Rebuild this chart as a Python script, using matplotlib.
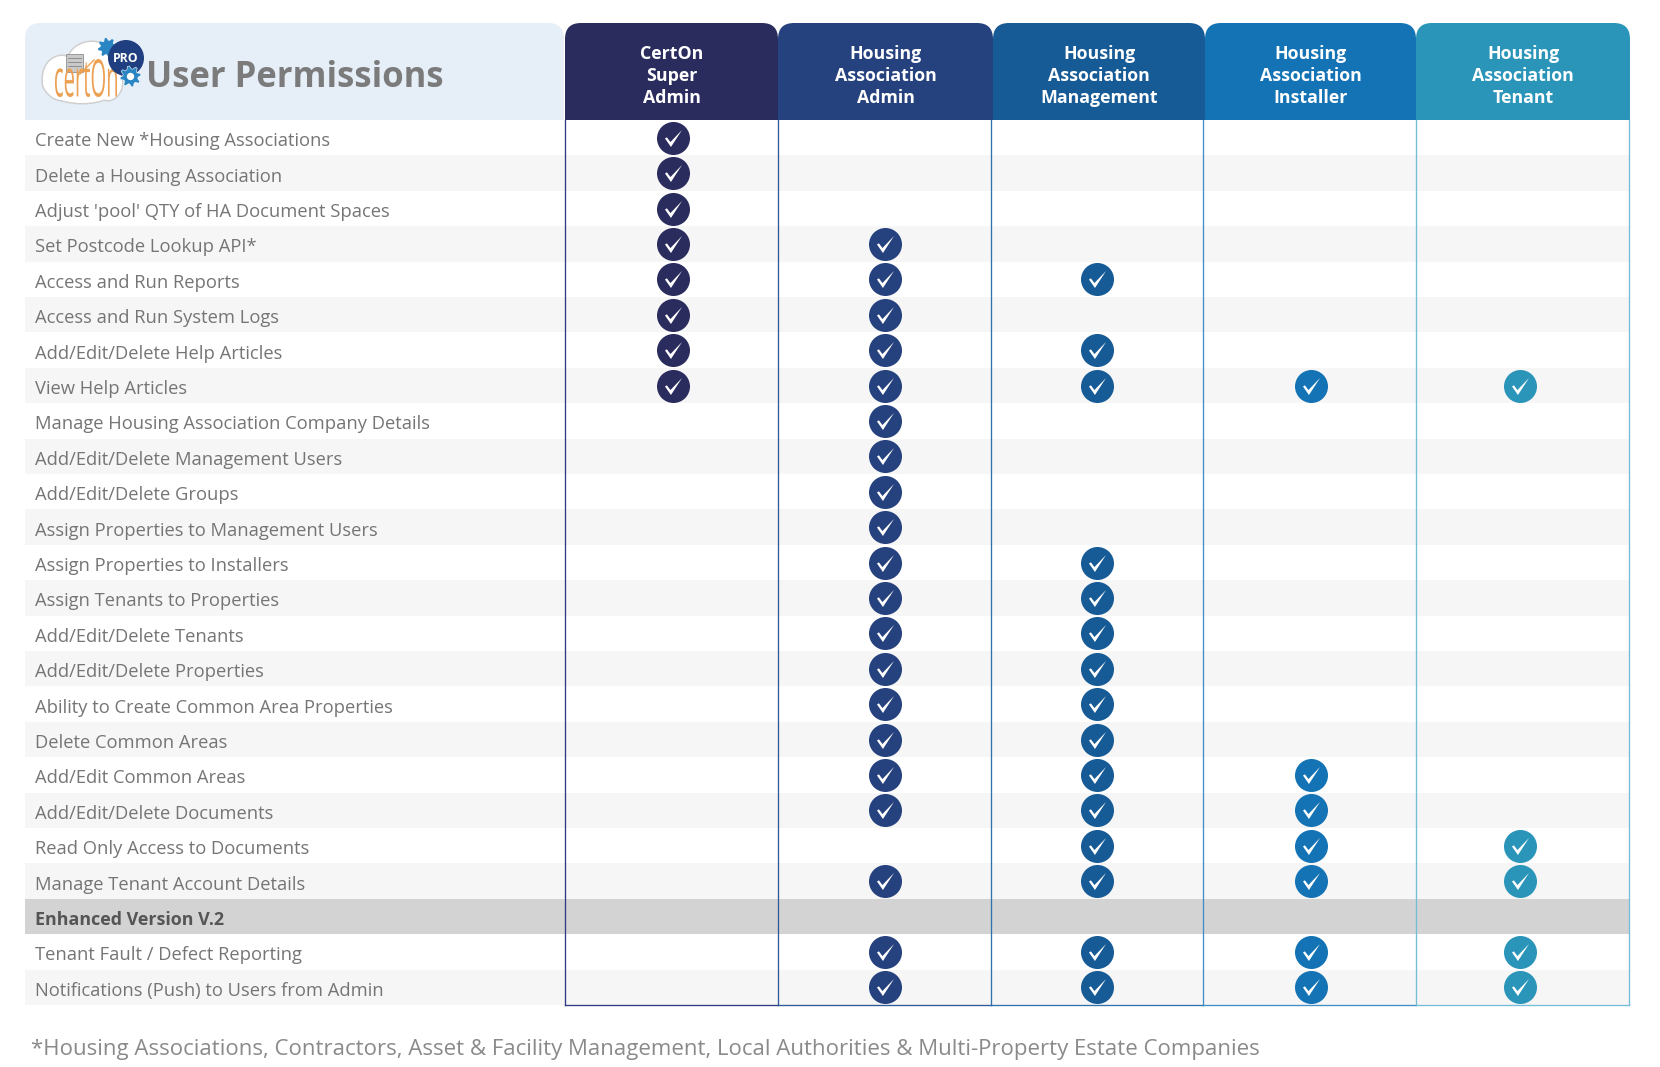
import matplotlib
matplotlib.use('Agg')
import matplotlib.pyplot as plt
import matplotlib.patches as patches
from matplotlib.path import Path
from matplotlib.textpath import TextPath
from matplotlib.font_manager import FontProperties
from matplotlib.transforms import Affine2D
import numpy as np

plt.rcParams['font.family'] = ['Open Sans', 'DejaVu Sans']

rowLabels = ["Create New *Housing Associations", "Delete a Housing Association",
             "Adjust 'pool' QTY of HA Document Spaces", "Set Postcode Lookup API*",
             "Access and Run Reports", "Access and Run System Logs",
             "Add/Edit/Delete Help Articles", "View Help Articles",
             "Manage Housing Association Company Details", "Add/Edit/Delete Management Users",
             "Add/Edit/Delete Groups", "Assign Properties to Management Users",
             "Assign Properties to Installers", "Assign Tenants to Properties",
             "Add/Edit/Delete Tenants", "Add/Edit/Delete Properties",
             "Ability to Create Common Area Properties", "Delete Common Areas",
             "Add/Edit Common Areas", "Add/Edit/Delete Documents",
             "Read Only Access to Documents", "Manage Tenant Account Details",
             "Enhanced Version V.2", "Tenant Fault / Defect Reporting",
             "Notifications (Push) to Users from Admin"]
columnLabels = ["CertOn\nSuper\nAdmin", "Housing\nAssociation\nAdmin",
                "Housing\nAssociation\nManagement", "Housing\nAssociation\nInstaller",
                "Housing\nAssociation\nTenant"]
superAdmin = [1,1,1,1,1,1,1,1,0,0,0,0,0,0,0,0,0,0,0,0,0,0,0,0,0]
haAdmin    = [0,0,0,1,1,1,1,1,1,1,1,1,1,1,1,1,1,1,1,1,0,1,0,1,1]
management = [0,0,0,0,1,0,1,1,0,0,0,0,1,1,1,1,1,1,1,1,1,1,0,1,1]
installer  = [0,0,0,0,0,0,0,1,0,0,0,0,0,0,0,0,0,0,1,1,1,1,0,1,1]
tenant     = [0,0,0,0,0,0,0,1,0,0,0,0,0,0,0,0,0,0,0,0,1,1,0,1,1]
permissions = [superAdmin, haAdmin, management, installer, tenant]
sectionRow = 22
titleText = "User Permissions"
footnote = "*Housing Associations, Contractors, Asset & Facility Management, Local Authorities & Multi-Property Estate Companies"

headerColors = ['#2b2c5e', '#26427e', '#165a96', '#1473b5', '#2a95b9']
lineColors = ['#2f3a80', '#2f5a98', '#2f72ac', '#3f8fc6', '#74bdd8']
colEdges = [565, 778, 991, 1203, 1416, 1629]
headerEdges = [565, 778, 993, 1205, 1416, 1630]
dotShift = [1.5, 0.5, 0, 1.5, -2.5]
left = 25
top = 23
headerBottom = 120
rowHeight = 35.4
corner = 16
textDrop = 3.5

fig = plt.figure(figsize=(16.6, 10.67), dpi=100)
ax = fig.add_axes([0, 0, 1, 1])
ax.set_xlim(0, 1660)
ax.set_ylim(1067, 0)
ax.axis('off')


def rowY(i):
    return headerBottom + rowHeight * (i + 0.5)


def topRounded(x0, x1, color, zorder=2):
    ax.add_patch(patches.FancyBboxPatch((x0 + corner, top + corner), x1 - x0 - 2 * corner, headerBottom - top,
                                        boxstyle='round,pad=%d,rounding_size=%d' % (corner, corner),
                                        fc=color, ec='none', zorder=zorder))
    # squared off bottom
    ax.add_patch(patches.Rectangle((x0, top + 2 * corner), x1 - x0, headerBottom - top - 2 * corner,
                                   fc=color, ec='none', zorder=zorder))
    ax.add_patch(patches.Rectangle((x0 - 1, headerBottom), x1 - x0 + 2, 2 * corner + 2,
                                   fc='white', ec='none', zorder=zorder + 0.1))


def gearPath(teeth=8):
    angles = np.linspace(0, 2 * np.pi, teeth * 4, endpoint=False) + np.pi / (teeth * 4)
    radii = np.tile([1, 1, 0.72, 0.72], teeth)
    verts = np.column_stack((radii * np.cos(angles), radii * np.sin(angles)))
    verts = np.vstack((verts, verts[0]))
    codes = [Path.MOVETO] + [Path.LINETO] * (len(verts) - 2) + [Path.CLOSEPOLY]
    return Path(verts, codes)


# row bands
for i, label in enumerate(rowLabels):
    y0 = headerBottom + rowHeight * i
    if i == sectionRow:
        ax.add_patch(patches.Rectangle((left, y0), colEdges[-1] - left, rowHeight, fc='#d3d3d3', ec='none', zorder=1))
    elif (i < sectionRow and i % 2 == 1) or (i > sectionRow and i % 2 == 0):
        ax.add_patch(patches.Rectangle((left, y0), colEdges[-1] - left, rowHeight, fc='#f6f6f6', ec='none', zorder=1))
    if i == sectionRow:
        ax.text(35, rowY(i) + textDrop, label, fontsize=12.85, fontweight='bold', color='#555555', va='center', zorder=5)
    else:
        ax.text(35, rowY(i) + textDrop, label, fontsize=13.2, color='#757575', va='center', zorder=5)

# header blocks
topRounded(left, colEdges[0] - 1, '#e6eff8')
for c in range(5):
    topRounded(headerEdges[c], headerEdges[c + 1], headerColors[c], zorder=2 + c * 0.01)
    ax.text((headerEdges[c] + headerEdges[c + 1]) / 2, 76, columnLabels[c], color='white', fontsize=12.8,
            fontweight='bold', ha='center', va='center', linespacing=1.28, zorder=5)

# grid lines
ax.plot([colEdges[0], colEdges[0]], [headerBottom, 1005], color=lineColors[0], lw=0.95, zorder=3)
for c in range(5):
    x1 = colEdges[c + 1]
    ax.plot([x1, x1], [headerBottom, 1005], color=lineColors[min(c + 1, 4)], lw=0.95, zorder=3)
    ax.plot([colEdges[c], x1], [1005, 1005], color=lineColors[c], lw=0.95, zorder=3)

# tick marks
checkShape = Path([(-1, 0.0), (-0.78, 0.14), (-0.36, -0.42), (1, 1), (-0.3, -1), (-1, 0.0)],
                  [Path.MOVETO, Path.LINETO, Path.LINETO, Path.LINETO, Path.LINETO, Path.CLOSEPOLY])
for c, col in enumerate(permissions):
    cx = (colEdges[c] + colEdges[c + 1]) / 2 + dotShift[c]
    ys = [rowY(i) for i, has in enumerate(col) if has]
    xs = [cx] * len(ys)
    ax.scatter(xs, ys, s=565, color=headerColors[c], linewidths=0, zorder=6)
    ax.scatter(xs, ys, s=150, color='white', marker=checkShape, linewidths=0, zorder=7)

# logo
cloud = [(82, 83, 78, 40), (62, 78, 38, 44), (92, 62, 48, 40), (108, 82, 28, 36)]
for ex, ey, ew, eh in cloud:
    ax.add_patch(patches.Ellipse((ex, ey), ew + 3, eh + 3, fc='#cfcfcf', ec='none', zorder=3))
for ex, ey, ew, eh in cloud:
    ax.add_patch(patches.Ellipse((ex, ey), ew, eh, fc='white', ec='none', zorder=3.1))
ax.add_patch(patches.Rectangle((66, 54), 17, 18, fc='#c9c9c9', ec='#8f8f8f', lw=0.6, zorder=4))
ax.plot([68, 81], [58, 58], color='#777777', lw=0.5, zorder=4.1)
ax.plot([68, 81], [62, 62], color='#777777', lw=0.5, zorder=4.1)
ax.plot([68, 81], [66, 66], color='#777777', lw=0.5, zorder=4.1)
ax.plot([80, 94], [74, 60], color='#f0a24e', lw=1, zorder=4.1)
logoPath = TextPath((0, 0), 'certOn', size=20, prop=FontProperties(family='Open Sans'))
logoBox = logoPath.get_extents()
logoTf = Affine2D().translate(-logoBox.x0, -logoBox.y0).scale(62 / logoBox.width, -38 / logoBox.height).translate(55, 97)
ax.add_patch(patches.PathPatch(logoPath, transform=logoTf + ax.transData, fc='#eca052', ec='none', zorder=4.2))
gear = gearPath()
ax.scatter([107], [47], s=190, marker=gear, color='#2a86c2', linewidths=0, zorder=4.3)
ax.add_patch(patches.Circle((126, 58), 18, fc='#1f3f80', ec='none', zorder=4.4))
ax.text(126, 58, 'PRO', color='white', fontsize=8.8, fontweight='bold', ha='center', va='center', zorder=4.6)
ax.scatter([130], [76], s=230, marker=gear, color='#2a86c2', edgecolors='white', linewidths=0.4, zorder=4.7)
ax.scatter([130], [76], s=28, color='white', linewidths=0, zorder=4.8)

ax.text(146, 78, titleText, fontsize=24.9, fontweight='bold', color='#7b7b7b', va='center', zorder=5)
ax.text(31, 1050, footnote, fontsize=16.03, color='#8a8a8a', va='center', zorder=5)

fig.savefig('out.png', dpi=100)
